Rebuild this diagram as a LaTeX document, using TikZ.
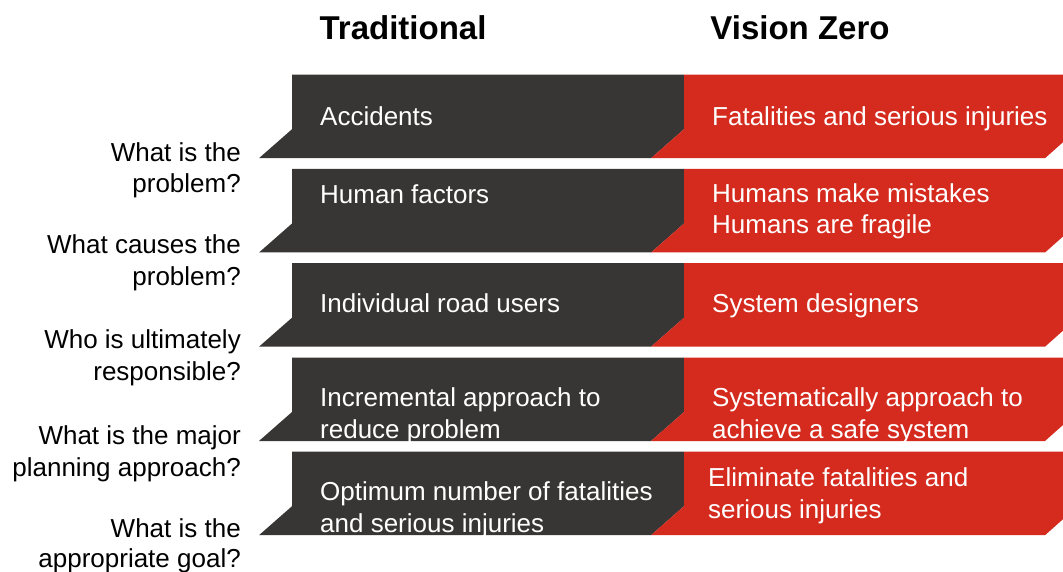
\documentclass[tikz,border=0pt]{standalone}
\usepackage{fontspec}
\setmainfont{Liberation Sans}
\definecolor{darkband}{HTML}{383634}
\definecolor{redband}{HTML}{D52B1F}
\tikzset{
  body/.style={font=\fontsize{26}{31.5}\selectfont, inner sep=0pt, align=left},
  celltext/.style={body, text=white, anchor=base west},
  question/.style={body, align=right, anchor=base east, text=black},
  header/.style={font=\fontsize{33}{40}\selectfont\bfseries, inner sep=0pt, anchor=base},
}
\newcommand{\bandrow}[1]{%
  \fill[darkband] (292,#1) -- (684,#1) -- (684,#1+54.5) -- (651,#1+83.5) -- (259,#1+83.5) -- (292,#1+54.5) -- cycle;
  \fill[redband] (684,#1) -- (1063,#1) -- (1063,#1+67.5) -- (1045,#1+83.5) -- (651,#1+83.5) -- (684,#1+54.5) -- cycle;
}
\begin{document}
\begin{tikzpicture}[x=1pt,y=-1pt]
\useasboundingbox (0,0) rectangle (1063,572);
\bandrow{74.7}
\bandrow{169}
\bandrow{263.2}
\bandrow{357.5}
\bandrow{451.7}
\node[header] (trad) at (403,40) {Traditional};
\node[header] (vz) at (800,40) {Vision Zero};
% questions (anchor = baseline of last line)
\node[question] (q1) at (241,193) {What is the\\problem?};
\node[question] (q2) at (241,285) {What causes the\\problem?};
\node[question] (q3) at (241,380) {Who is ultimately\\responsible?};
\node[question] (q4) at (241,476) {What is the major\\planning approach?};
\node[question, font=\fontsize{26}{30}\selectfont] (q5) at (241,567) {What is the\\appropriate goal?};
% traditional
\node[celltext] (t1) at (320,126) {Accidents};
\node[celltext] (t2) at (320,204) {Human factors};
\node[celltext] (t3) at (320,312) {Individual road users};
\node[celltext] (t4) at (320,438) {Incremental approach to\\reduce problem};
\node[celltext] (t5) at (320,532) {Optimum number of fatalities\\and serious injuries};
% vision zero
\node[celltext] (v1) at (712,126) {Fatalities and serious injuries};
\node[celltext] (v2) at (712,234) {Humans make mistakes\\Humans are fragile};
\node[celltext] (v3) at (712,312) {System designers};
\node[celltext] (v4) at (712,438) {Systematically approach to\\achieve a safe system};
\node[celltext] (v5) at (708,518) {Eliminate fatalities and\\serious injuries};
\end{tikzpicture}
\end{document}
